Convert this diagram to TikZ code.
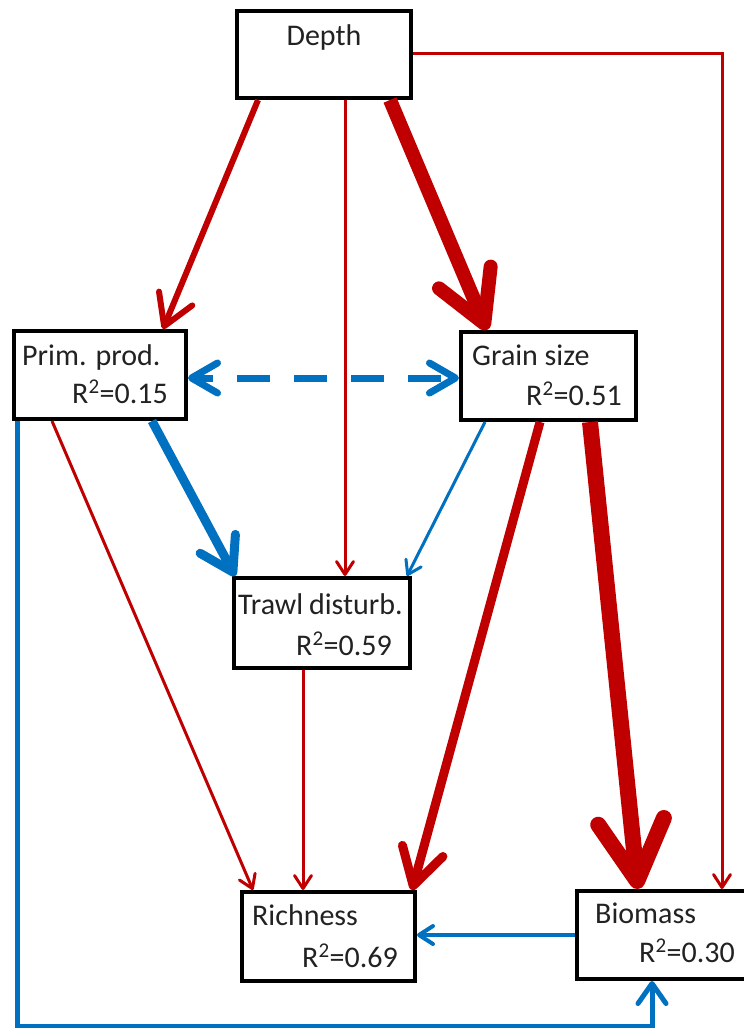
\documentclass[tikz,border=0pt]{standalone}
\usepackage{fontspec}
\setmainfont{Carlito}
\usetikzlibrary{arrows.meta}
\definecolor{pathred}{HTML}{C00000}
\definecolor{pathblue}{HTML}{0070C0}
\definecolor{labeltext}{HTML}{222222}
\begin{document}
\begin{tikzpicture}[x=1pt,y=-1pt,
  varbox/.style={draw=black,line width=4pt,fill=white,inner sep=0pt,
    minimum width=#1,minimum height=88pt},
  vartitle/.style={anchor=base west,inner sep=0pt,text=labeltext,
    font=\fontsize{30}{36}\selectfont},
  varrsq/.style={anchor=base east,inner sep=0pt,text=labeltext,
    font=\fontsize{30}{36}\selectfont},
  redpath/.style={draw=pathred},
  bluepath/.style={draw=pathblue},
  onehead/.style n args={2}{-{Straight Barb[length=#1pt,width=#2pt,round]}},
  twoheads/.style n args={2}{{Straight Barb[length=#1pt,width=#2pt,round]}-{Straight Barb[length=#1pt,width=#2pt,round]}},
  thinpath/.style={line width=3pt,onehead={13}{17}},
]
\useasboundingbox (0,0) rectangle (744,1028);

% variable boxes
\node[varbox=174pt,minimum height=87pt] (depth) at (324,54.5) {};
\node[varbox=172pt] (prim) at (100,375) {};
\node[varbox=175pt] (grain) at (548.5,376) {};
\node[varbox=176pt,minimum height=90pt] (trawl) at (322,623) {};
\node[varbox=173pt,minimum height=89pt] (rich) at (328.5,936.5) {};
\node[varbox=175pt] (bio) at (664.5,935) {};

% box texts
\node[anchor=base,inner sep=0pt,text=labeltext,font=\fontsize{30}{36}\selectfont] (tdepth) at (324,45) {Depth};
\node[vartitle] (tprim) at (22,365) {Prim. prod.};
\node[varrsq] (rprim) at (168,403) {R\textsuperscript{2}=0.15};
\node[vartitle] (tgrain) at (472,365) {Grain size};
\node[varrsq] (rgrain) at (622,405) {R\textsuperscript{2}=0.51};
\node[vartitle] (ttrawl) at (238,614) {Trawl\kern-1pt\ disturb.};
\node[varrsq] (rtrawl) at (392,655) {R\textsuperscript{2}=0.59};
\node[vartitle] (trich) at (252,925) {Richness};
\node[varrsq] (rrich) at (398,967) {R\textsuperscript{2}=0.69};
\node[vartitle] (tbio) at (595,923) {Biomass};
\node[varrsq] (rbio) at (735,962) {R\textsuperscript{2}=0.30};

% paths from depth
\draw[redpath,line width=6pt,onehead={30}{36}] ([xshift=-66pt]depth.south) -- ([xshift=63pt]prim.north);
\draw[redpath,thinpath] ([xshift=21pt]depth.south) -- ([xshift=23pt]trawl.north);
\draw[redpath,line width=14pt,onehead={50}{56}] ([xshift=66pt]depth.south) -- ([xshift=-61.5pt]grain.north);
\draw[redpath,thinpath] ([yshift=1.5pt]depth.east) -| ([xshift=57.5pt]bio.north);

% correlation between primary production and grain size
\draw[bluepath,line width=7pt,twoheads={26}{30},dash pattern=on 33pt off 24pt,dash phase=15pt]
  ([yshift=-3pt]prim.east) -- ([yshift=-2pt]grain.west);

% paths into trawl disturbance
\draw[bluepath,line width=9pt,onehead={32}{40}] ([xshift=52pt]prim.south) -- ([xshift=-87pt]trawl.north);
\draw[bluepath,thinpath] ([xshift=-63.5pt]grain.south) -- ([xshift=85pt]trawl.north);

% paths into richness
\draw[redpath,thinpath] ([xshift=-48pt]prim.south) -- ([xshift=-75.5pt]rich.north);
\draw[redpath,thinpath] ([xshift=-19pt]trawl.south) -- ([xshift=-25.5pt]rich.north);
\draw[redpath,line width=9pt,onehead={36}{42}] ([xshift=-8.5pt]grain.south) -- ([xshift=83.5pt]rich.north);
\draw[bluepath,line width=4pt,onehead={14}{18}] (bio.west) -- ([yshift=1.5pt]rich.east);

% paths into biomass
\draw[redpath,line width=16pt,onehead={60}{66}] ([xshift=41.5pt]grain.south) -- ([xshift=-26.5pt]bio.north);
\draw[bluepath,line width=5pt,onehead={20}{28}] ([xshift=-83pt]prim.south)
  |- ([xshift=-12.5pt,yshift=-45pt]bio.south) -- ([xshift=-12.5pt]bio.south);
\end{tikzpicture}
\end{document}
